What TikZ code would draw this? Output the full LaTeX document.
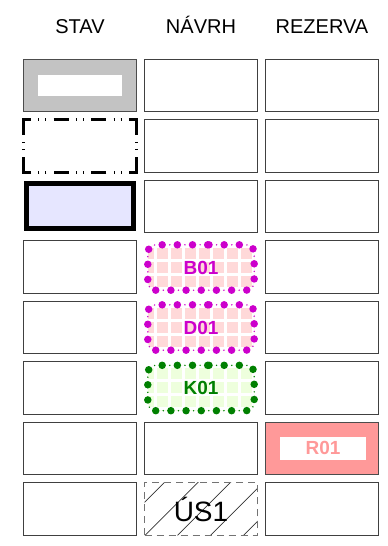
\documentclass[tikz,border=0pt]{standalone}
\usepackage{fontspec}
\setmainfont{Liberation Sans}
\definecolor{stavgray}{HTML}{C3C3C3}
\definecolor{stavblue}{HTML}{E6E6FF}
\definecolor{bpink}{HTML}{FFD9D9}
\definecolor{bmagenta}{HTML}{CC00CC}
\definecolor{kgreen}{HTML}{008000}
\definecolor{klight}{HTML}{EEFFDD}
\definecolor{rsalmon}{HTML}{FF9999}
\tikzset{
    cell/.style={rectangle, draw=black!75, line width=0.9pt, minimum width=113pt, minimum height=52.5pt, inner sep=0pt, outer sep=0pt},
    header/.style={anchor=base, font=\fontsize{20}{24}\selectfont},
    stavframe/.style={draw=black, line width=3pt, line join=miter,
        dash pattern=on 0pt off 3pt on 1pt off 7.33pt on 15pt
        off 7.33pt on 1pt off 6pt on 1pt off 7.33pt on 22.5pt
        off 7.25pt on 1pt off 6pt on 1pt off 7.25pt on 22.5pt
        off 7.33pt on 1pt off 6pt on 1pt off 7.33pt on 15pt
        off 7.33pt on 1pt off 6pt on 1pt off 7.33pt on 15pt
        off 7.33pt on 1pt off 6pt on 1pt off 7.33pt on 22.5pt
        off 7.25pt on 1pt off 6pt on 1pt off 7.25pt on 22.5pt
        off 7.33pt on 1pt off 6pt on 1pt off 7.33pt on 15pt
        off 7.33pt on 1pt off 3pt},
    bigdots/.style={draw=#1, line width=7.5pt, line cap=round, dash pattern=on 0pt off 15.17pt, rounded corners=8pt},
    smalldots/.style={draw=#1, line width=1.6pt, line cap=round, dash pattern=on 0pt off 7.586pt, rounded corners=8pt},
    gridfill/.style={rectangle, rounded corners=8pt, minimum width=106pt, minimum height=45pt, inner sep=0pt,
        font=\fontsize{19}{22}\selectfont\bfseries,
        path picture={\draw[white, line width=3pt, step=14pt] (path picture bounding box.south west) grid (path picture bounding box.north east);}},
}
\begin{document}
\begin{tikzpicture}[x=1pt, y=-1pt]
    \useasboundingbox (0,0) rectangle (388,546);

    \node[header] (stav) at (80,33) {STAV};
    \node[header] (navrh) at (201,33) {NÁVRH};
    \node[header] (rezerva) at (322,33) {REZERVA};

    \node[cell, fill=stavgray, draw=black!70] (stav1) at (80,85.5) {};
    \node[fill=white, minimum width=84pt, minimum height=21.4pt, inner sep=0pt] (stav1in) at (stav1) {};
    \node[cell, draw=none] (stav2) at (80,146) {};
    \draw[stavframe] (stav2.north) -- (stav2.north east) -- (stav2.south east) -- (stav2.south west) -- (stav2.north west) -- cycle;
    \node[cell, draw=black, line width=5pt, fill=stavblue, minimum width=106.5pt, minimum height=45pt] (stav3) at (80,205.7) {};
    \node[cell] (stav4) at (80,267) {};
    \node[cell] (stav5) at (80,327.5) {};
    \node[cell] (stav6) at (80,388) {};
    \node[cell] (stav7) at (80,448.5) {};
    \node[cell] (stav8) at (80,509) {};

    \node[cell] (navrh1) at (201,85.5) {};
    \node[cell] (navrh2) at (201,146) {};
    \node[cell] (navrh3) at (201,206.5) {};
    \node[gridfill, fill=bpink, text=bmagenta] (navrh4) at (201,267.5) {B01};
    \draw[smalldots=bmagenta] (navrh4.north) -- (navrh4.north east) -- (navrh4.south east) -- (navrh4.south west) -- (navrh4.north west) -- cycle;
    \draw[bigdots=bmagenta] (navrh4.north) -- (navrh4.north east) -- (navrh4.south east) -- (navrh4.south west) -- (navrh4.north west) -- cycle;
    \node[gridfill, fill=bpink, text=bmagenta] (navrh5) at (201,327.5) {D01};
    \draw[smalldots=bmagenta] (navrh5.north) -- (navrh5.north east) -- (navrh5.south east) -- (navrh5.south west) -- (navrh5.north west) -- cycle;
    \draw[bigdots=bmagenta] (navrh5.north) -- (navrh5.north east) -- (navrh5.south east) -- (navrh5.south west) -- (navrh5.north west) -- cycle;
    \node[gridfill, fill=klight, text=kgreen] (navrh6) at (201,388) {K01};
    \draw[smalldots=kgreen] (navrh6.north) -- (navrh6.north east) -- (navrh6.south east) -- (navrh6.south west) -- (navrh6.north west) -- cycle;
    \draw[bigdots=kgreen] (navrh6.north) -- (navrh6.north east) -- (navrh6.south east) -- (navrh6.south west) -- (navrh6.north west) -- cycle;
    \node[cell] (navrh7) at (201,448.5) {};
    \node[cell, draw=black!55, dash pattern=on 7pt off 5pt, font=\fontsize{28}{32}\selectfont,
        path picture={\draw[solid, black!80, line width=0.7pt]
            ([xshift=-33pt]path picture bounding box.south west) -- ++(60pt,60pt)
            ([xshift=0.5pt]path picture bounding box.south west) -- ++(60pt,60pt)
            ([xshift=33pt]path picture bounding box.south west) -- ++(60pt,60pt)
            ([xshift=66pt]path picture bounding box.south west) -- ++(60pt,60pt)
            ([xshift=99pt]path picture bounding box.south west) -- ++(60pt,60pt);}] (navrh8) at (201,509) {ÚS1};

    \node[cell] (rezerva1) at (322,85.5) {};
    \node[cell] (rezerva2) at (322,146) {};
    \node[cell] (rezerva3) at (322,206.5) {};
    \node[cell] (rezerva4) at (322,267) {};
    \node[cell] (rezerva5) at (322,327.5) {};
    \node[cell] (rezerva6) at (322,388) {};
    \node[cell, fill=rsalmon, draw=black!70] (rezerva7) at (322,448.5) {};
    \node[fill=white, minimum width=86pt, minimum height=23.3pt, inner sep=0pt, text=rsalmon, font=\fontsize{19}{22}\selectfont\bfseries] (rezerva7in) at (323,448.3) {R01};
    \node[cell] (rezerva8) at (322,509) {};
\end{tikzpicture}
\end{document}
